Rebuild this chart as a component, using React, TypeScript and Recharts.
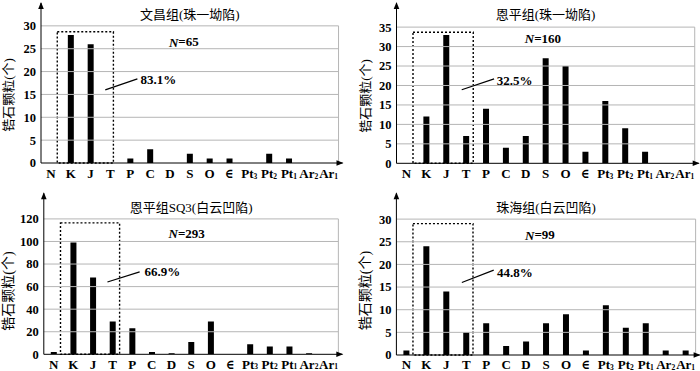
import React from 'react';
import { BarChart, Bar, XAxis, YAxis, ReferenceLine, ReferenceArea, ReferenceDot } from 'recharts';

const SERIF = "'Liberation Serif', Tinos, 'Times New Roman', 'DejaVu Serif Condensed', 'DejaVu Serif', serif";
const CJK = "'Liberation Serif', Tinos, 'Times New Roman', 'DejaVu Serif Condensed', 'Noto Sans CJK SC', serif";

// ---- data ----
const categories = ['N', 'K', 'J', 'T', 'P', 'C', 'D', 'S', 'O', '∈', 'Pt3', 'Pt2', 'Pt1', 'Ar2', 'Ar1'];

const wenchangCounts = [0, 28, 26, 0, 1, 3, 0, 2, 1, 1, 0, 2, 1, 0, 0];
const enpingCounts = [0, 12, 33, 7, 14, 4, 7, 27, 25, 3, 16, 9, 3, 0, 0];
const enpingSQ3Counts = [2, 99, 68, 29, 23, 2, 1, 11, 29, 0, 9, 7, 7, 1, 0];
const zhuhaiCounts = [1, 24, 14, 5, 7, 2, 3, 7, 9, 1, 11, 6, 7, 1, 1];

const panelTitles = ['文昌组(珠一坳陷)', '恩平组(珠一坳陷)', '恩平组SQ3(白云凹陷)', '珠海组(白云凹陷)'];
const sampleSizes = [65, 160, 293, 99];
const boxPercents = ['83.1%', '32.5%', '66.9%', '44.8%'];

const yTicksWenchang = [0, 5, 10, 15, 20, 25, 30];
const yTicksEnping = [0, 5, 10, 15, 20, 25, 30, 35];
const yTicksSQ3 = [0, 20, 40, 60, 80, 100, 120];
const yTicksZhuhai = [0, 5, 10, 15, 20, 25, 30];

const yAxisLabel = '锆石颗粒(个)';

// axis extents (data space)
const yAxisTops = [35, 41.2, 142.7, 35.7];
const xDomain: [number, number] = [-0.5, 14.7];
const plotRightEdge = 14.5;

// annotation anchors (data space)
const boxLeft = [0.32, 0.33, 0.35, 0.33];
const boxRight = [3.15, 3.36, 3.36, 3.34];
const boxTop = [28.7, 33.7, 116.5, 29];
const leaderStart = [[2.74, 16], [2.78, 18.9], [2.74, 64.1], [2.78, 16]];
const leaderEnd = [[4.36, 18.4], [4.41, 21.7], [4.38, 73], [4.38, 18.75]];
const percentAt = [[4.51, 18.2], [4.54, 21.4], [4.63, 73], [4.54, 18.3]];
const sampleAt = [[5.95, 26.5], [5.95, 32.2], [5.85, 107.5], [5.95, 26.5]];
const titleAt = [[7, 32.4], [7, 38.2], [7, 130], [7, 32.5]];

// layout
const panelLeft = [0, 350, 0, 350];
const panelTop = [0, 0, 185, 185];
const panelHeight = [185, 185, 186, 186];
const yAxisWidth = [41, 46.5, 43.8, 46.4];
const marginRight = [7.5, 1.3, 7.7, 0.4];
const marginTop = [3, 3, 8.3, 8.3];
const xAxisHeight = [22, 21.7, 16.7, 16];
const tickBaseline = [15, 15, 14.3, 14.3];
const yLabelX = [8.5, 15, 8.5, 15];
const yLabelY = [95, 96, 106, 105.5];
const yLabelSize = [13, 13, 14, 14];

const countsList = [wenchangCounts, enpingCounts, enpingSQ3Counts, zhuhaiCounts];
const yTicksList = [yTicksWenchang, yTicksEnping, yTicksSQ3, yTicksZhuhai];

const GRID = '#b5b5b5';

function CategoryTick(props: any) {
  const { x, y, payload, baseline } = props;
  const label = categories[payload.value] ?? '';
  const m = label.match(/^(.*?)(\d)$/);
  const main = m ? m[1] : label;
  const sub = m ? m[2] : '';
  return (
    <text x={x} y={y + baseline} textAnchor="middle" fontFamily={SERIF} fontWeight={700} fontSize={13} fill="#000">
      {main}
      {sub ? (
        <tspan fontSize={7.5} dy={0.6}>
          {sub}
        </tspan>
      ) : null}
    </text>
  );
}

function Panel({ idx }: { idx: number }) {
  const counts = countsList[idx];
  const yTicks = yTicksList[idx];
  const data = categories.map((c, i) => ({ i, name: c, v: counts[i] }));
  const topTick = yTicks[yTicks.length - 1];
  const yMax = yAxisTops[idx];
  const width = 350;
  const height = panelHeight[idx];

  return (
    <div style={{ position: 'absolute', left: panelLeft[idx], top: panelTop[idx], width, height }}>
      <BarChart
        width={width}
        height={height}
        data={data}
        margin={{ top: marginTop[idx], right: marginRight[idx], bottom: 0, left: 0 }}
      >
        <XAxis
          type="number"
          dataKey="i"
          domain={xDomain}
          ticks={categories.map((_, i) => i)}
          interval={0}
          height={xAxisHeight[idx]}
          tickLine={false}
          tickSize={0}
          tickMargin={0}
          axisLine={{ stroke: '#000', strokeWidth: 1 }}
          tick={(p: any) => <CategoryTick {...p} baseline={tickBaseline[idx]} />}
          allowDataOverflow
        />
        <YAxis
          type="number"
          domain={[0, yMax]}
          ticks={yTicks}
          interval={0}
          width={yAxisWidth[idx]}
          tickLine={false}
          tickSize={0}
          tickMargin={5}
          axisLine={{ stroke: '#000', strokeWidth: 1 }}
          tick={{ fill: '#000', fontSize: 12.5, fontWeight: 700, fontFamily: SERIF }}
          allowDataOverflow
          label={{
            content: () => (
              <text
                transform={`translate(${yLabelX[idx]},${yLabelY[idx]}) rotate(-90)`}
                textAnchor="middle"
                dominantBaseline="central"
                fontFamily={CJK}
                fontSize={yLabelSize[idx]}
                fill="#000"
              >
                {yAxisLabel}
              </text>
            ),
          }}
        />
        {yTicks
          .filter((t) => t > 0)
          .map((t) => (
            <ReferenceLine
              key={'g' + t}
              segment={[
                { x: xDomain[0], y: t },
                { x: plotRightEdge, y: t },
              ]}
              stroke={GRID}
              strokeWidth={1}
              ifOverflow="visible"
            />
          ))}
        <ReferenceLine
          segment={[
            { x: plotRightEdge, y: 0 },
            { x: plotRightEdge, y: topTick },
          ]}
          stroke={GRID}
          strokeWidth={1}
          ifOverflow="visible"
        />
        <Bar dataKey="v" fill="#000" barSize={6} isAnimationActive={false} />
        <ReferenceArea
          x1={boxLeft[idx]}
          x2={boxRight[idx]}
          y1={0}
          y2={boxTop[idx]}
          fill="none"
          fillOpacity={0}
          stroke="#000"
          strokeWidth={1.4}
          strokeDasharray="2 2"
          ifOverflow="visible"
        />
        <ReferenceLine
          segment={[
            { x: leaderStart[idx][0], y: leaderStart[idx][1] },
            { x: leaderEnd[idx][0], y: leaderEnd[idx][1] },
          ]}
          stroke="#000"
          strokeWidth={1.2}
          ifOverflow="visible"
        />
        <ReferenceDot
          x={percentAt[idx][0]}
          y={percentAt[idx][1]}
          ifOverflow="visible"
          shape={(p: any) => (
            <text x={p.cx} y={p.cy} textAnchor="start" dominantBaseline="central" fontFamily={SERIF} fontWeight={700} fontSize={13} fill="#000">
              {boxPercents[idx]}
            </text>
          )}
        />
        <ReferenceDot
          x={sampleAt[idx][0]}
          y={sampleAt[idx][1]}
          ifOverflow="visible"
          shape={(p: any) => (
            <text x={p.cx} y={p.cy} textAnchor="start" dominantBaseline="central" fontFamily={SERIF} fontWeight={700} fontSize={13} fill="#000">
              <tspan fontStyle="italic">N</tspan>={sampleSizes[idx]}
            </text>
          )}
        />
        <ReferenceDot
          x={titleAt[idx][0]}
          y={titleAt[idx][1]}
          ifOverflow="visible"
          shape={(p: any) => (
            <text x={p.cx} y={p.cy} textAnchor="middle" dominantBaseline="central" fontFamily={CJK} fontSize={13} fill="#000">
              {panelTitles[idx]}
            </text>
          )}
        />
        <ReferenceDot
          x={xDomain[0]}
          y={yMax}
          ifOverflow="visible"
          shape={(p: any) => (
            <path d={`M${p.cx},${p.cy - 1} L${p.cx - 2.8},${p.cy + 6} L${p.cx + 2.8},${p.cy + 6} Z`} fill="#000" />
          )}
        />
        <ReferenceDot
          x={xDomain[1]}
          y={0}
          ifOverflow="visible"
          shape={(p: any) => (
            <path d={`M${p.cx + 1},${p.cy} L${p.cx - 6},${p.cy - 2.8} L${p.cx - 6},${p.cy + 2.8} Z`} fill="#000" />
          )}
        />
      </BarChart>
    </div>
  );
}

export default function App() {
  return (
    <div style={{ position: 'fixed', left: 0, top: 0, width: 700, height: 371, background: '#fff', overflow: 'hidden' }}>
      {[0, 1, 2, 3].map((i) => (
        <Panel key={i} idx={i} />
      ))}
    </div>
  );
}
